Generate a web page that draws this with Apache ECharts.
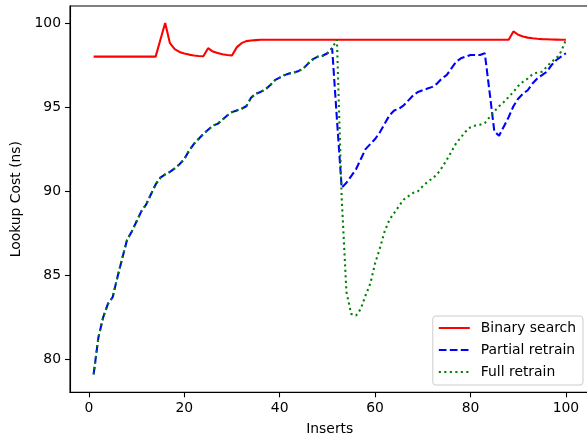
<!DOCTYPE html>
<html>
<head>
<meta charset="utf-8">
<script src="https://cdn.jsdelivr.net/npm/echarts@6/dist/echarts.min.js"></script>
<style>
  html, body { margin: 0; padding: 0; background: #ffffff; }
  #chart { width: 587px; height: 436px; }
</style>
</head>
<body>
<div id="chart"></div>
<script>
// Lookup cost per insert count for three index maintenance strategies
const inserts = [];
for (let i = 1; i <= 100; i++) inserts.push(i);

const binarySearch = [
  98.0, 98.0, 98.0, 98.0, 98.0, 98.0, 98.0, 98.0, 98.0, 98.0,
  98.0, 98.0, 98.0, 98.0, 99.0, 100.0, 98.8, 98.45, 98.28, 98.18,
  98.12, 98.07, 98.04, 98.02, 98.5, 98.3, 98.22, 98.14, 98.1, 98.07,
  98.55, 98.8, 98.92, 98.96, 98.98, 99.0, 99.0, 99.0, 99.0, 99.0,
  99.0, 99.0, 99.0, 99.0, 99.0, 99.0, 99.0, 99.0, 99.0, 99.0,
  99.0, 99.0, 99.0, 99.0, 99.0, 99.0, 99.0, 99.0, 99.0, 99.0,
  99.0, 99.0, 99.0, 99.0, 99.0, 99.0, 99.0, 99.0, 99.0, 99.0,
  99.0, 99.0, 99.0, 99.0, 99.0, 99.0, 99.0, 99.0, 99.0, 99.0,
  99.0, 99.0, 99.0, 99.0, 99.0, 99.0, 99.0, 99.0, 99.5, 99.3,
  99.2, 99.13, 99.09, 99.06, 99.04, 99.03, 99.02, 99.01, 99.0, 99.0
];

const partialRetrain = [
  79.1, 81.3, 82.5, 83.3, 83.7, 84.9, 86.0, 87.1, 87.6, 88.2,
  88.8, 89.2, 89.8, 90.4, 90.8, 91.0, 91.15, 91.35, 91.6, 91.9,
  92.4, 92.8, 93.1, 93.4, 93.65, 93.9, 94.0, 94.25, 94.5, 94.7,
  94.8, 94.9, 95.05, 95.55, 95.8, 95.9, 96.05, 96.3, 96.6, 96.75,
  96.9, 97.0, 97.05, 97.15, 97.3, 97.6, 97.85, 98.0, 98.05, 98.2,
  98.5, 94.3, 90.2, 90.5, 90.9, 91.3, 91.9, 92.5, 92.8, 93.1,
  93.5, 94.0, 94.5, 94.8, 94.9, 95.1, 95.4, 95.7, 95.9, 96.0,
  96.1, 96.2, 96.4, 96.7, 96.9, 97.3, 97.7, 97.9, 98.0, 98.1,
  98.1, 98.1, 98.2, 95.9, 93.55, 93.3, 93.85, 94.4, 95.05, 95.5,
  95.8, 96.0, 96.4, 96.7, 96.9, 97.1, 97.5, 97.8, 98.0, 98.2
];

const fullRetrain = [
  79.1, 81.3, 82.5, 83.3, 83.7, 84.9, 86.0, 87.1, 87.6, 88.2,
  88.8, 89.2, 89.8, 90.4, 90.8, 91.0, 91.15, 91.35, 91.6, 91.9,
  92.4, 92.8, 93.1, 93.4, 93.65, 93.9, 94.0, 94.25, 94.5, 94.7,
  94.8, 94.9, 95.05, 95.55, 95.8, 95.9, 96.05, 96.3, 96.6, 96.75,
  96.9, 97.0, 97.05, 97.15, 97.3, 97.6, 97.85, 98.0, 98.05, 98.2,
  98.5, 99.0, 89.6, 84.0, 82.7, 82.6, 83.0, 83.8, 84.5, 85.7,
  86.6, 87.6, 88.3, 88.7, 89.1, 89.5, 89.7, 89.9, 90.0, 90.3,
  90.55, 90.75, 91.0, 91.4, 91.85, 92.35, 92.85, 93.2, 93.55, 93.8,
  93.9, 93.95, 94.05, 94.4, 94.75, 95.05, 95.3, 95.6, 95.9, 96.25,
  96.5, 96.7, 96.95, 97.05, 97.1, 97.4, 97.7, 97.9, 98.3, 99.0
];

const xTicks = [0, 20, 40, 60, 80, 100];
const yTicks = [80, 85, 90, 95, 100];

const seriesNames = ['Binary search', 'Partial retrain', 'Full retrain'];

const font = 'DejaVu Sans';
const pairs = vals => inserts.map((x, i) => [x, vals[i]]);

const chart = echarts.init(document.getElementById('chart'), null, { renderer: 'canvas' });

chart.setOption({
  animation: false,
  backgroundColor: '#ffffff',
  grid: {
    left: 70, top: 6, right: -2.5, bottom: 43.7,
    outerBoundsMode: 'none',
    containLabel: false,
    show: true, borderColor: '#000000', borderWidth: 1.1, backgroundColor: 'transparent'
  },
  xAxis: {
    type: 'value',
    min: -3.95, max: 104.95,
    name: 'Inserts',
    nameLocation: 'middle',
    nameGap: 30,
    nameTextStyle: { fontFamily: font, fontSize: 13.9, color: '#000000' },
    axisLine: { onZero: false, lineStyle: { color: '#000000', width: 1.1 } },
    axisTick: { show: true, length: 5, customValues: xTicks, lineStyle: { color: '#000000', width: 1.1 } },
    axisLabel: { customValues: xTicks, margin: 9, fontFamily: font, fontSize: 13.9, color: '#000000' },
    splitLine: { show: false }
  },
  yAxis: {
    type: 'value',
    min: 78.04, max: 101.01,
    name: 'Lookup Cost (ns)',
    nameLocation: 'middle',
    nameRotate: 90,
    nameGap: 45,
    nameTextStyle: { fontFamily: font, fontSize: 13.9, color: '#000000' },
    axisLine: { show: true, onZero: false, lineStyle: { color: '#000000', width: 1.1 } },
    axisTick: { show: true, length: 5, customValues: yTicks, lineStyle: { color: '#000000', width: 1.1 } },
    axisLabel: { customValues: yTicks, margin: 9, fontFamily: font, fontSize: 13.9, color: '#000000' },
    splitLine: { show: false }
  },
  legend: {
    orient: 'vertical',
    right: 4,
    bottom: 51,
    data: seriesNames,
    itemWidth: 31,
    itemHeight: 14,
    itemGap: 8,
    padding: [5, 7, 6, 5],
    backgroundColor: 'rgba(255,255,255,0.8)',
    borderColor: '#cccccc',
    borderWidth: 1,
    borderRadius: 3,
    itemStyle: { opacity: 0 },
    textStyle: { fontFamily: font, fontSize: 13.9, color: '#000000', padding: [0, 0, 0, 6] }
  },
  series: [
    {
      name: seriesNames[0], type: 'line', symbol: 'none', showSymbol: false,
      data: pairs(binarySearch),
      lineStyle: { color: '#ff0000', width: 2.08, type: 'solid' },
      itemStyle: { color: '#ff0000' }
    },
    {
      name: seriesNames[1], type: 'line', symbol: 'none', showSymbol: false,
      data: pairs(partialRetrain),
      lineStyle: { color: '#0000ff', width: 2.08, type: [7.7, 3.3] },
      itemStyle: { color: '#0000ff' }
    },
    {
      name: seriesNames[2], type: 'line', symbol: 'none', showSymbol: false,
      data: pairs(fullRetrain),
      lineStyle: { color: '#008000', width: 2.08, type: [2.1, 3.4] },
      itemStyle: { color: '#008000' }
    }
  ]
});
</script>
</body>
</html>
